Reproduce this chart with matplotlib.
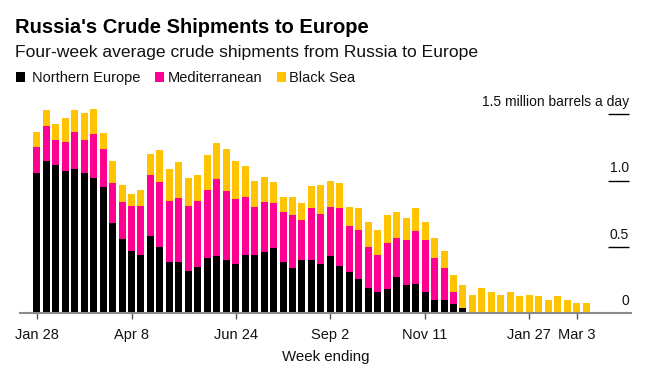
import matplotlib
matplotlib.use("Agg")
import matplotlib.pyplot as plt
from matplotlib.patches import Rectangle
import matplotlib.transforms as mtransforms
import numpy as np

plt.rcParams['font.family'] = ['Liberation Sans', 'DejaVu Sans']

# Data (million barrels a day), weekly from Jan 28 to Mar 10
northern_europe = [1.06, 1.15, 1.12, 1.07, 1.09, 1.06, 1.02, 0.95, 0.68, 0.56,
                   0.47, 0.44, 0.58, 0.50, 0.39, 0.39, 0.32, 0.35, 0.42, 0.43,
                   0.40, 0.37, 0.44, 0.44, 0.46, 0.49, 0.39, 0.34, 0.40, 0.40,
                   0.37, 0.43, 0.36, 0.31, 0.26, 0.19, 0.16, 0.18, 0.27, 0.21,
                   0.22, 0.16, 0.10, 0.10, 0.07, 0.04, 0, 0, 0, 0,
                   0, 0, 0, 0, 0, 0, 0, 0, 0]
mediterranean = [0.19, 0.26, 0.19, 0.22, 0.28, 0.25, 0.33, 0.29, 0.30, 0.28,
                 0.34, 0.37, 0.46, 0.49, 0.46, 0.48, 0.49, 0.50, 0.51, 0.58,
                 0.52, 0.49, 0.44, 0.36, 0.38, 0.34, 0.37, 0.40, 0.30, 0.39,
                 0.38, 0.37, 0.43, 0.35, 0.37, 0.31, 0.28, 0.35, 0.30, 0.34,
                 0.40, 0.39, 0.32, 0.24, 0.09, 0, 0, 0, 0, 0,
                 0, 0, 0, 0, 0, 0, 0, 0, 0]
black_sea = [0.12, 0.12, 0.12, 0.18, 0.16, 0.20, 0.19, 0.12, 0.17, 0.13,
             0.09, 0.12, 0.16, 0.24, 0.24, 0.27, 0.21, 0.19, 0.26, 0.27,
             0.32, 0.29, 0.23, 0.20, 0.19, 0.16, 0.12, 0.14, 0.13, 0.17,
             0.22, 0.20, 0.19, 0.14, 0.16, 0.19, 0.19, 0.21, 0.19, 0.17,
             0.17, 0.14, 0.15, 0.13, 0.13, 0.17, 0.14, 0.19, 0.16, 0.14,
             0.16, 0.13, 0.14, 0.13, 0.10, 0.13, 0.10, 0.08, 0.08]
tick_positions = [0, 10, 21, 31, 41, 52, 57]
tick_labels = ["Jan 28", "Apr 8", "Jun 24", "Sep 2", "Nov 11", "Jan 27", "Mar 3"]
y_levels = [0, 0.5, 1.0, 1.5]
y_labels = ["0", "0.5", "1.0", "1.5 million barrels a day"]

C_BLACK = "#000000"
C_PINK = "#FF0093"
C_YELLOW = "#FFC300"

W, H = 647, 368
fig = plt.figure(figsize=(W / 100, H / 100), dpi=100)
fig.patch.set_facecolor("white")

base_px = 313.3
unit_px = 132.67
ymax = 1.6
ax = fig.add_axes([20 / W, (H - base_px) / H, 611 / W, ymax * unit_px / H])

x = np.arange(len(northern_europe))
ne = np.array(northern_europe)
me = np.array(mediterranean)
bs = np.array(black_sea)
bw = 0.74
ax.bar(x, ne, width=bw, color=C_BLACK, linewidth=0)
ax.bar(x, me, width=bw, bottom=ne, color=C_PINK, linewidth=0)
ax.bar(x, bs, width=bw, bottom=ne + me, color=C_YELLOW, linewidth=0)

ax.set_xlim((20 - 36.8) / 9.47, (631 - 36.8) / 9.47)
ax.set_ylim(0, ymax)

for s in ["top", "left", "right"]:
    ax.spines[s].set_visible(False)
ax.spines["bottom"].set_color("#8a8a8a")
ax.spines["bottom"].set_linewidth(1.5)

ax.set_yticks([])
ax.set_xticks(tick_positions)
ax.set_xticklabels(tick_labels, fontsize=10.5, color="#111111")
ax.tick_params(axis="x", length=4.3, width=1, color="#555555", pad=6)

trans = mtransforms.blended_transform_factory(ax.transAxes, ax.transData)
for yv, lab in zip(y_levels, y_labels):
    if yv > 0:
        ax.plot([0.962, 0.997], [yv, yv], transform=trans, color="black",
                linewidth=1.0, clip_on=False, solid_capstyle="butt")
    ax.annotate(lab, xy=(0.997, yv), xycoords=trans, xytext=(0, 6),
                textcoords="offset points", ha="right", va="baseline",
                fontsize=10.0, color="#111111", annotation_clip=False)

# Titles
fig.text(15 / W, 1 - 33.3 / H, "Russia's Crude Shipments to Europe",
         fontsize=14.5, fontweight="bold", color="black", va="baseline", ha="left")
fig.text(15 / W, 1 - 57.3 / H, "Four-week average crude shipments from Russia to Europe",
         fontsize=12.6, color="#111111", va="baseline", ha="left")

# Legend
legend_items = [("Northern Europe", C_BLACK, 16, 31.7),
                ("Mediterranean", C_PINK, 155, 167.7),
                ("Black Sea", C_YELLOW, 277, 289.3)]
for lab, col, sx, tx in legend_items:
    fig.add_artist(Rectangle((sx / W, 1 - 81.7 / H), 9 / W, 9.4 / H,
                             transform=fig.transFigure, facecolor=col, edgecolor="none"))
    fig.text(tx / W, 1 - 81.7 / H, lab, fontsize=10.5, color="#111111",
             va="baseline", ha="left")

fig.text((20 + 611 / 2) / W, 1 - 361.3 / H, "Week ending", fontsize=10.8,
         color="#111111", va="baseline", ha="center")

fig.savefig("out.png", dpi=100, facecolor="white")
